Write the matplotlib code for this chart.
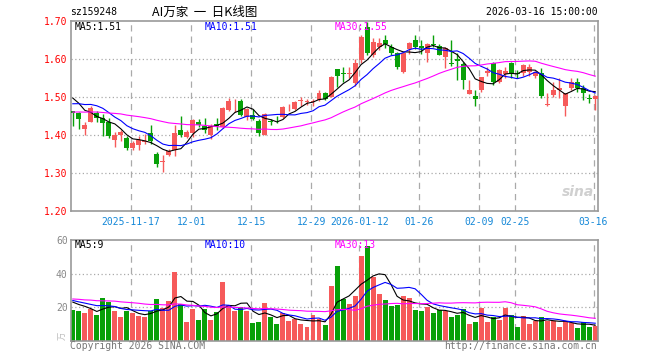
import matplotlib
matplotlib.use("Agg")
import matplotlib.pyplot as plt
import numpy as np
import pandas as pd

# ---- values (sz159248, daily K line) ----
date_labels = ["2025-11-17", "12-01", "12-15", "12-29", "2026-01-12",
               "01-26", "02-09", "02-25", "03-16"]
date_index = [10, 20, 30, 40, 48, 58, 68, 74, 87]

opens = [1.463, 1.459, 1.417, 1.436, 1.459, 1.445, 1.436, 1.388, 1.401, 1.392,
         1.367, 1.375, 1.383, 1.407, 1.352, 1.330, 1.348, 1.360, 1.413, 1.396,
         1.405, 1.436, 1.424, 1.401, 1.430, 1.423, 1.467, 1.489, 1.490, 1.447,
         1.453, 1.438, 1.401, 1.437, 1.441, 1.449, 1.476, 1.468, 1.490, 1.487,
         1.488, 1.493, 1.512, 1.502, 1.574, 1.563, 1.561, 1.538, 1.598, 1.686,
         1.611, 1.633, 1.651, 1.633, 1.617, 1.567, 1.626, 1.652, 1.636, 1.616,
         1.640, 1.635, 1.607, 1.589, 1.600, 1.588, 1.510, 1.504, 1.519, 1.563,
         1.591, 1.541, 1.561, 1.591, 1.565, 1.565, 1.567, 1.556, 1.565, 1.481,
         1.507, 1.518, 1.476, 1.524, 1.541, 1.524, 1.498, 1.496]
highs = [1.465, 1.461, 1.436, 1.476, 1.463, 1.456, 1.445, 1.410, 1.414, 1.397,
         1.386, 1.397, 1.403, 1.427, 1.357, 1.348, 1.365, 1.427, 1.450, 1.413,
         1.442, 1.444, 1.445, 1.430, 1.445, 1.475, 1.497, 1.495, 1.495, 1.472,
         1.470, 1.442, 1.458, 1.444, 1.452, 1.478, 1.483, 1.490, 1.500, 1.495,
         1.495, 1.520, 1.515, 1.555, 1.575, 1.580, 1.580, 1.600, 1.665, 1.698,
         1.655, 1.655, 1.665, 1.640, 1.620, 1.620, 1.645, 1.664, 1.651, 1.642,
         1.664, 1.640, 1.632, 1.651, 1.616, 1.592, 1.546, 1.518, 1.553, 1.581,
         1.594, 1.575, 1.580, 1.594, 1.572, 1.588, 1.588, 1.570, 1.578, 1.511,
         1.539, 1.550, 1.511, 1.550, 1.550, 1.533, 1.509, 1.507]
lows = [1.425, 1.417, 1.401, 1.434, 1.436, 1.397, 1.393, 1.368, 1.384, 1.362,
        1.362, 1.362, 1.376, 1.376, 1.316, 1.304, 1.346, 1.345, 1.396, 1.392,
        1.396, 1.423, 1.405, 1.390, 1.415, 1.420, 1.464, 1.462, 1.450, 1.440,
        1.440, 1.398, 1.401, 1.428, 1.433, 1.446, 1.465, 1.466, 1.478, 1.480,
        1.478, 1.490, 1.493, 1.500, 1.528, 1.540, 1.550, 1.530, 1.590, 1.610,
        1.605, 1.625, 1.630, 1.610, 1.575, 1.565, 1.615, 1.626, 1.615, 1.594,
        1.633, 1.610, 1.576, 1.583, 1.546, 1.521, 1.508, 1.476, 1.515, 1.556,
        1.533, 1.538, 1.550, 1.550, 1.550, 1.556, 1.556, 1.552, 1.497, 1.476,
        1.500, 1.497, 1.451, 1.520, 1.515, 1.493, 1.486, 1.467]
closes = [1.460, 1.442, 1.427, 1.473, 1.445, 1.433, 1.398, 1.401, 1.408, 1.366,
          1.380, 1.388, 1.385, 1.385, 1.325, 1.333, 1.360, 1.405, 1.401, 1.408,
          1.440, 1.427, 1.414, 1.424, 1.425, 1.471, 1.490, 1.491, 1.453, 1.468,
          1.442, 1.405, 1.455, 1.435, 1.439, 1.474, 1.478, 1.488, 1.492, 1.489,
          1.490, 1.512, 1.496, 1.553, 1.556, 1.561, 1.563, 1.591, 1.659, 1.616,
          1.646, 1.644, 1.640, 1.617, 1.581, 1.616, 1.642, 1.632, 1.630, 1.640,
          1.638, 1.612, 1.629, 1.587, 1.596, 1.546, 1.519, 1.495, 1.553, 1.570,
          1.541, 1.572, 1.570, 1.563, 1.561, 1.585, 1.581, 1.567, 1.504, 1.483,
          1.519, 1.524, 1.511, 1.539, 1.524, 1.511, 1.496, 1.504]
# volume in 万手
volumes = [18.4, 17.8, 16.6, 19.2, 15.4, 25.6, 23.4, 18.0, 14.2, 17.8,
           16.4, 15.0, 14.4, 17.8, 25.0, 19.8, 23.8, 41.2, 22.2, 11.2,
           19.0, 12.6, 19.0, 12.4, 17.4, 35.2, 21.4, 18.0, 20.0, 18.0,
           10.8, 11.4, 22.8, 14.0, 10.0, 16.8, 12.0, 13.0, 10.2, 8.4,
           15.4, 12.8, 9.6, 32.8, 44.4, 25.0, 22.0, 26.8, 50.4, 56.4,
           38.0, 28.2, 24.4, 20.8, 21.4, 26.8, 25.6, 18.4, 17.8, 20.2,
           16.6, 18.4, 17.6, 14.0, 15.4, 19.0, 10.0, 11.2, 19.6, 11.2,
           14.0, 12.4, 19.6, 15.4, 8.2, 14.8, 10.0, 11.8, 14.2, 11.8,
           12.0, 8.2, 12.0, 10.5, 7.6, 11.0, 8.2, 9.0]

# days before the visible window, estimated from where the MA lines start
warmup_close = [1.43, 1.44, 1.46, 1.45, 1.47, 1.44, 1.43, 1.45, 1.46, 1.44,
                1.45, 1.46, 1.47, 1.45, 1.44, 1.46, 1.45, 1.44, 1.46, 1.45,
                1.44, 1.45, 1.47, 1.48, 1.50, 1.51, 1.52, 1.50, 1.50]
warmup_vol = [24, 27, 23, 26, 28, 25, 22, 27, 26, 24, 25, 28, 26, 23, 27,
              25, 24, 26, 27, 25, 26, 24, 27, 23, 25, 25, 22, 26, 24]

RED = "#f65a5a"
GREEN = "#08a008"
GRID = "#aaaaaa"
FRAME = "#999999"
MONO = "DejaVu Sans Mono"

n = len(closes)
x = np.arange(n)
o = np.array(opens)
c = np.array(closes)
up = c >= o
col = np.where(up, RED, GREEN)


def moving(vals, warm, w):
    s = pd.Series(list(warm) + list(vals), dtype=float)
    return s.rolling(w).mean().values[len(warm):]


ma5, ma10, ma30 = (moving(closes, warmup_close, w) for w in (5, 10, 30))
vma5, vma10, vma30 = (moving(volumes, warmup_vol, w) for w in (5, 10, 30))

W, H = 660, 360
fig = plt.figure(figsize=(6.6, 3.6), dpi=100)


def box(l, t, r, b):
    return [l / W, 1 - b / H, (r - l) / W, (b - t) / H]


# candle i sits at 72.8 + 6.005*i px, frame 70.5..598
px = 6.005
xlim = ((70.5 - 72.8) / px, (598.0 - 72.8) / px)
grid_x = [i - 1.7 / px for i in date_index]

ax = fig.add_axes(box(70.5, 21.3, 598.0, 211.3))
ax2 = fig.add_axes(box(70.5, 240.0, 598.0, 340.7))

for a in (ax, ax2):
    a.set_xlim(*xlim)
    for s in a.spines.values():
        s.set_color(FRAME)
        s.set_linewidth(1.2)
    for gx in grid_x:
        a.axvline(gx, color=GRID, lw=0.9, ls=(0, (5, 4)), zorder=0)
    a.set_xticks([])
    a.tick_params(axis="y", length=0, pad=2)

# price panel
ax.set_ylim(1.20, 1.70)
for lv in [1.30, 1.40, 1.50, 1.60]:
    ax.axhline(lv, color=GRID, lw=0.9, ls=(0, (1, 2)), zorder=0)
body_h = np.maximum(np.abs(c - o), 0.0015)
ax.vlines(x, lows, highs, colors=col, lw=1.0, zorder=2)
ax.bar(x, body_h, bottom=np.minimum(o, c), width=0.83, color=col,
       linewidth=0, zorder=3)
ax.plot(x, ma5, color="black", lw=0.8, zorder=4)
ax.plot(x, ma10, color="#0000ff", lw=0.8, zorder=4)
ax.plot(x, ma30, color="#ff00ff", lw=0.8, zorder=4)
yt = [1.20, 1.30, 1.40, 1.50, 1.60, 1.70]
ax.set_yticks(yt)
ax.set_yticklabels(["%.2f" % v for v in yt], family=MONO, fontsize=7,
                   color="#ff0000")

# volume panel
ax2.set_ylim(0, 60.2)
for lv in [20, 40]:
    ax2.axhline(lv, color=GRID, lw=0.9, ls=(0, (1, 2)), zorder=0)
ax2.bar(x, volumes, width=0.83, color=col, linewidth=0, zorder=2)
ax2.plot(x, vma5, color="black", lw=0.8, zorder=4)
ax2.plot(x, vma10, color="#0000ff", lw=0.8, zorder=4)
ax2.plot(x, vma30, color="#ff00ff", lw=0.8, zorder=4)
ax2.set_yticks([20, 40, 60])
ax2.set_yticklabels(["20", "40", "60"], family=MONO, fontsize=7,
                    color="#888888")


def ftext(xp, yp, s, **kw):
    kw.setdefault("family", MONO)
    kw.setdefault("fontsize", 7)
    kw.setdefault("va", "center")
    fig.text(xp / W, 1 - yp / H, s, **kw)


def trunc(v, d=2):
    return int(v * 10 ** d) / 10 ** d


# header
ftext(70, 12, "sz159248")
ftext(152, 12, "AI万家  一  日K线图", family=["Noto Sans CJK SC", "DejaVu Sans"],
      fontsize=9)
ftext(598, 12, "2026-03-16 15:00:00", ha="right")

# MA legends
ftext(74.5, 27, "MA5:%.2f" % trunc(ma5[-1]), color="black")
ftext(204.5, 27, "MA10:%.2f" % trunc(ma10[-1]), color="#0000ff")
ftext(335, 27, "MA30:%.2f" % trunc(ma30[-1]), color="#ff00ff")
ftext(74.5, 245.5, "MA5:%d" % int(vma5[-1]), color="black")
ftext(204.5, 245.5, "MA10:%d" % int(vma10[-1]), color="#0000ff")
ftext(335, 245.5, "MA30:%d" % int(vma30[-1]), color="#ff00ff")

# date labels
for i, lab in zip(date_index, date_labels):
    xp = 72.8 + px * i - 1.7
    ftext(xp, 222, lab, ha="center", color="#1588d8")

# volume unit, footer, watermark
ftext(62, 336, "万", family=["Noto Sans CJK SC"], fontsize=6, color="#bbbbbb",
      rotation=90, ha="center")
ftext(70, 346, "Copyright 2026 SINA.COM", color="#777777")
ftext(597, 346, "http://finance.sina.com.cn", ha="right", color="#777777")
ftext(594, 192, "sina", ha="right", family="DejaVu Sans", fontsize=10,
      style="italic", weight="bold", color="#d0d0d0")

fig.savefig("out.png", dpi=100)
